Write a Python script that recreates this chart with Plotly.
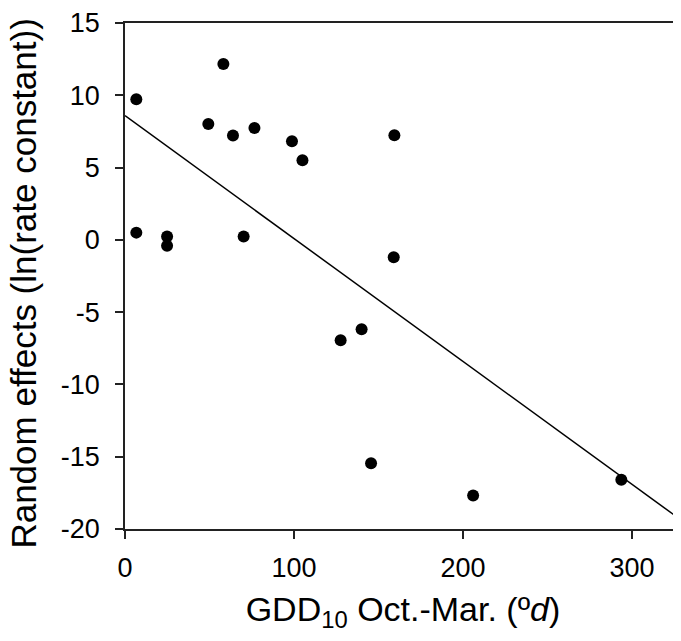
import plotly.graph_objects as go

# growing degree days (x) and random effects (y)
gdd = [6.7, 58.2, 49.3, 63.9, 76.6, 98.8, 105.0, 159.4,
       6.7, 24.9, 24.9, 70.2, 159.0, 140.0, 127.6, 145.6, 206.0, 293.7]
effects = [9.73, 12.16, 8.01, 7.22, 7.74, 6.82, 5.5, 7.24,
           0.5, 0.23, -0.41, 0.23, -1.2, -6.19, -6.94, -15.46, -17.69, -16.59]

# fitted regression line
fit_intercept = 8.59
fit_slope = -0.085
fit_x = [0, 329]
fit_y = [fit_intercept + fit_slope * v for v in fit_x]

x_ticks = [0, 100, 200, 300]
y_ticks = [-20, -15, -10, -5, 0, 5, 10, 15]
y_ticktext = ["-20", "-15", "-10", "-5", "0", "5", "10", "15"]

fig = go.Figure()
fig.add_trace(go.Scatter(x=fit_x, y=fit_y, mode="lines",
                         line=dict(color="black", width=1.5), showlegend=False))
fig.add_trace(go.Scatter(x=gdd, y=effects, mode="markers",
                         marker=dict(color="black", size=12), showlegend=False))

font = "Liberation Sans, Arial, sans-serif"
# page has an 8px body margin, so the figure is a bit smaller than the window
fig.update_layout(
    width=673, height=625,
    margin=dict(l=117, r=0, t=12, b=104),
    paper_bgcolor="white", plot_bgcolor="white",
    font=dict(family=font, color="black"),
)
fig.update_xaxes(
    range=[0, 329], tickvals=x_ticks, showgrid=False, zeroline=False,
    showline=True, linecolor="#222", linewidth=1.5, mirror=True,
    ticks="outside", ticklen=8, tickcolor="#222", tickwidth=1.5,
    tickfont=dict(size=27), ticklabelstandoff=6,
    title=dict(text="GDD<sub>10</sub> Oct.-Mar. (º<i>d</i>)",
               font=dict(size=34), standoff=20),
)
fig.update_yaxes(
    range=[-20, 15], tickvals=y_ticks, ticktext=y_ticktext,
    showgrid=False, zeroline=False,
    showline=True, linecolor="#222", linewidth=1.5,
    ticks="outside", ticklen=8, tickcolor="#222", tickwidth=1.5,
    tickfont=dict(size=27), ticklabelstandoff=10, ticklabeloverflow="allow",
)
# y title as an annotation so it can sit a little below centre like the original
fig.add_annotation(
    text="Random effects (ln(rate constant))", textangle=-90,
    xref="paper", yref="paper", x=0, y=0.485, xshift=-101,
    showarrow=False, font=dict(size=35),
    xanchor="center", yanchor="middle",
)

fig.write_html("out.html")
